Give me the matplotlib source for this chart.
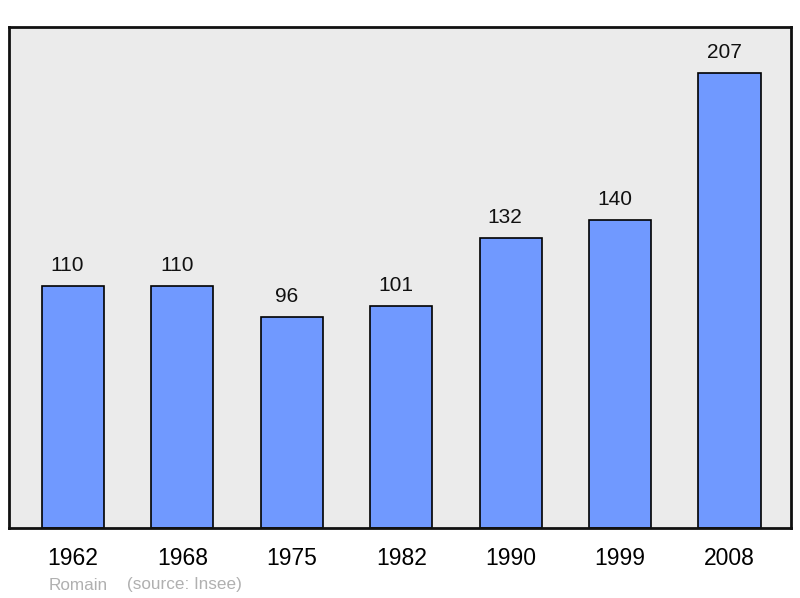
import matplotlib.pyplot as plt
from matplotlib.transforms import offset_copy

plt.rcParams['font.family'] = ['Liberation Sans', 'DejaVu Sans']

years = ['1962', '1968', '1975', '1982', '1990', '1999', '2008']
population = [110, 110, 96, 101, 132, 140, 207]

fig = plt.figure(figsize=(8, 5.98), dpi=100)
ax = fig.add_axes([9 / 800, 1 - 528 / 598, 782 / 800, 501 / 598])
ax.set_facecolor('#ebebeb')

x = range(len(years))
bars = ax.bar(x, population, width=0.567, color='#7099ff',
              edgecolor='black', linewidth=1.2, zorder=2)

ax.set_xlim(-0.585, 6.562)
ax.set_ylim(0, 228)
ax.set_yticks([])
ax.set_xticks(list(x))
ax.set_xticklabels(years, fontsize=16.5)
ax.tick_params(axis='x', length=0, pad=14)
for s in ax.spines.values():
    s.set_linewidth(2)
    s.set_color('#111111')

# value labels above bars
trans = offset_copy(ax.transData, fig=fig, x=-4, y=8, units='points')
for xi, v in zip(x, population):
    ax.text(xi, v, str(v), transform=trans, ha='center', va='bottom',
            fontsize=15, color='#111111')

fig.text(49 / 800, 1 - 585 / 598, 'Romain', color='#b0b0b0',
         fontsize=12.3, va='center', ha='left')
fig.text(127 / 800, 1 - 585 / 598, '(source: Insee)', color='#b0b0b0',
         fontsize=12.3, va='center', ha='left')

fig.savefig('out.png', dpi=100)
